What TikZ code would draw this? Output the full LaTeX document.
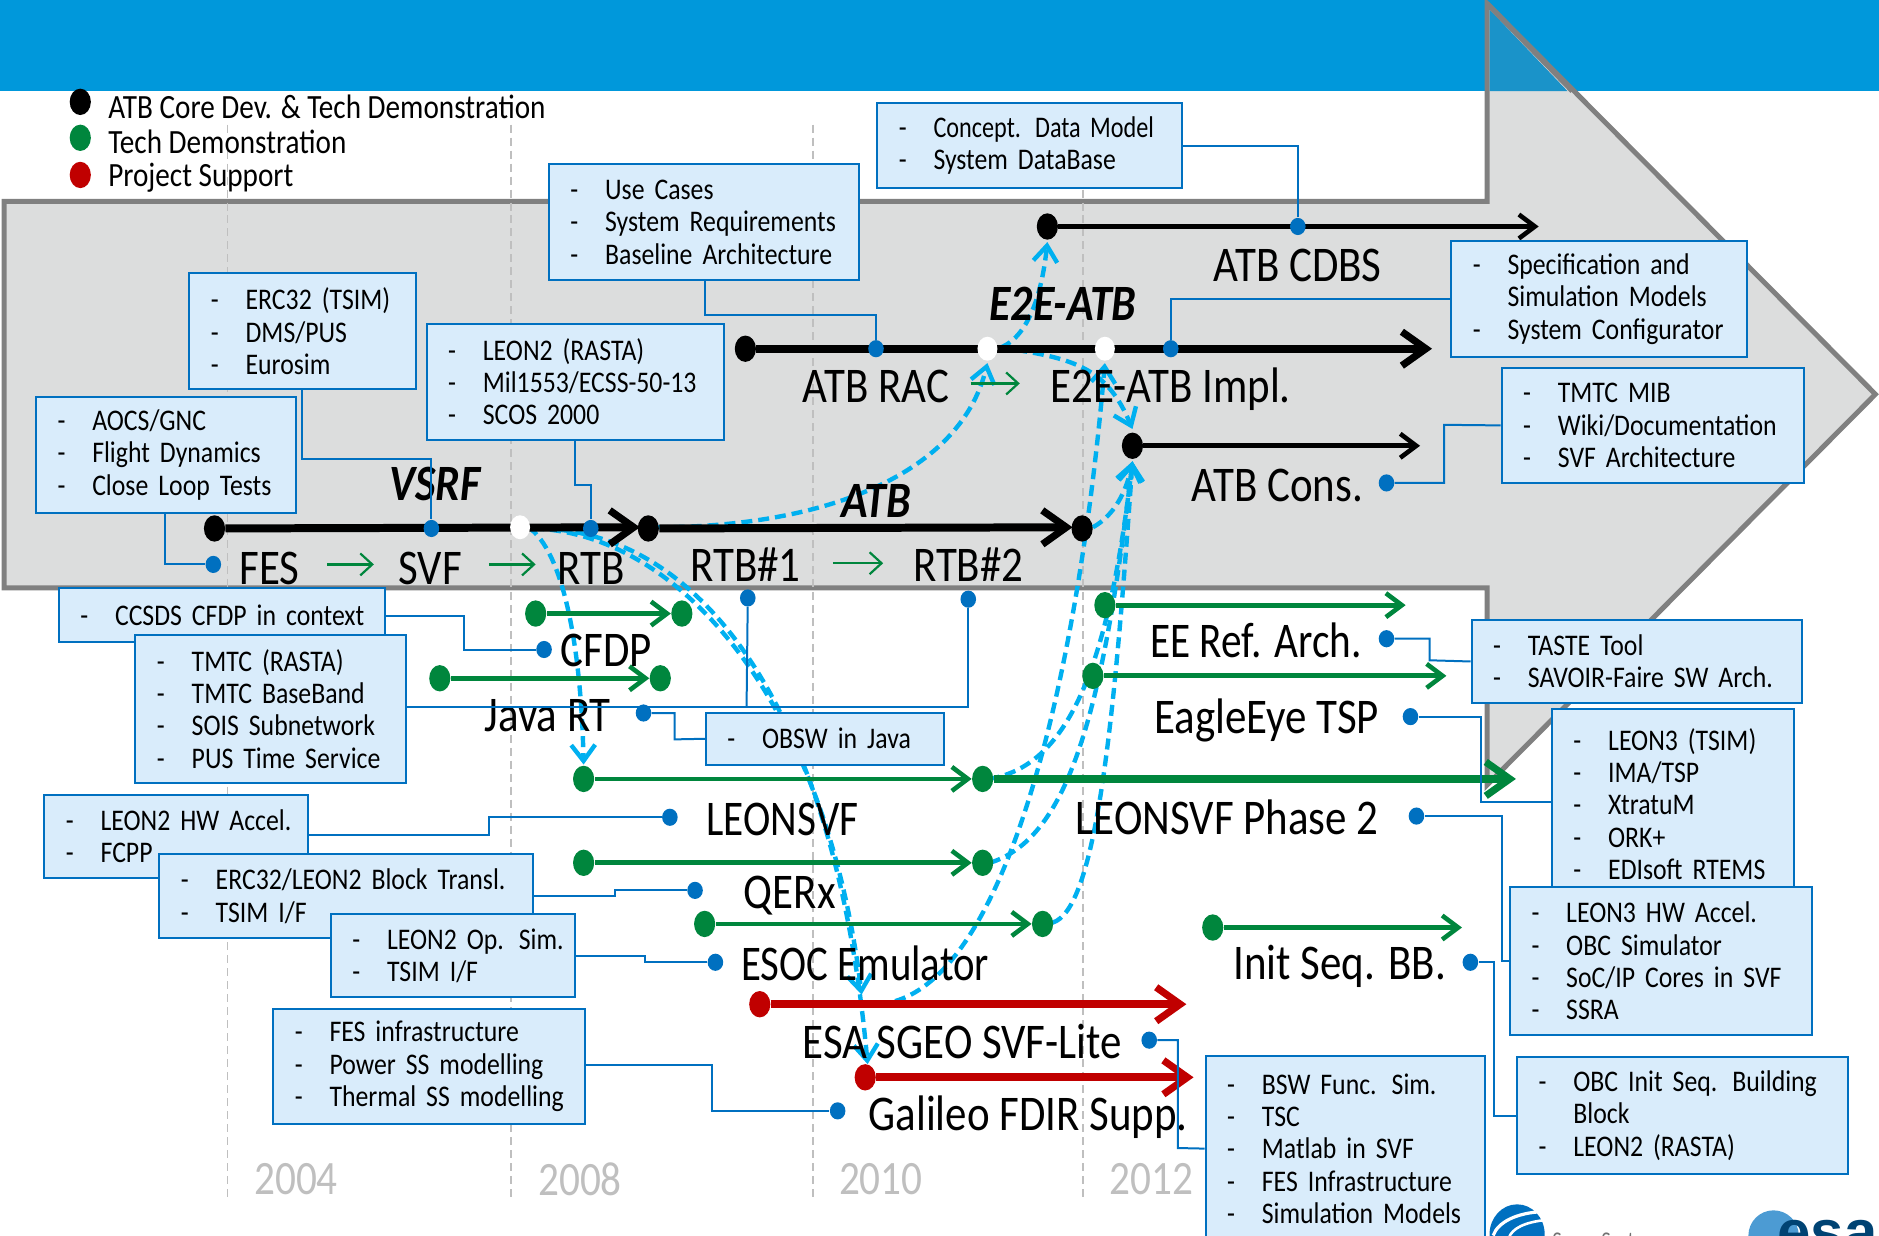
\documentclass[tikz,border=0pt]{standalone}
\usepackage{fontspec}
\usetikzlibrary{arrows.meta,shapes.geometric}
\setmainfont{Carlito}[FakeStretch=0.86]
\newfontfamily\esafont{Liberation Sans}
\definecolor{band}{HTML}{0098DB}
\definecolor{arrowfill}{HTML}{DCDDDD}
\definecolor{arrowline}{HTML}{808080}
\definecolor{boxfill}{HTML}{D9ECFB}
\definecolor{boxline}{HTML}{0070C0}
\definecolor{gr}{HTML}{00863D}
\definecolor{rd}{HTML}{C00000}
\definecolor{cy}{HTML}{00B0F0}
\definecolor{yr}{HTML}{BFBFBF}
\newcommand{\di}[1]{\mbox{\raisebox{-0.9pt}{\makebox[17.4pt][l]{-}#1}}}
\newcommand{\nd}[1]{\mbox{\raisebox{-0.9pt}{\hspace*{17.4pt}#1}}}
\newcommand{\ibox}[6]{%
 \pgfmathsetlengthmacro{\bw}{(#4-#2)*0.6pt}%
 \pgfmathsetlengthmacro{\bh}{(#5-#3)*0.6pt}%
 \pgfmathsetlengthmacro{\bt}{(#4-#2)*0.6pt-21.6pt}%
 \node[infobox,minimum width=\bw,minimum height=\bh,text width=\bt] (#1) at ({(#2+#4)/2},{(#3+#5)/2}) {#6};}
\tikzset{
 infobox/.style={draw=boxline,fill=boxfill,line width=1pt,inner xsep=10.8pt,inner ysep=0pt,align=left,
   font=\fontsize{15}{16.2}\selectfont},
 biglabel/.style={font=\fontsize{25}{27}\selectfont,inner sep=0pt,text height=16.2pt,text depth=0pt},
 italabel/.style={font=\fontsize{25.5}{27}\selectfont\bfseries\itshape,inner sep=0pt,text height=16.2pt,text depth=0pt},
 yearlabel/.style={font=\fontsize{24}{26}\selectfont,text=yr,inner sep=0pt},
 leglabel/.style={font=\fontsize{17}{18}\selectfont,anchor=west,inner sep=0pt},
 linkline/.style={draw=boxline,line width=1pt},
 pin/.style={ellipse,fill=boxline,minimum width=7.8pt,minimum height=8.6pt,inner sep=0pt},
 bigdot/.style={ellipse,fill=#1,minimum width=10.6pt,minimum height=13.2pt,inner sep=0pt},
 whitedot/.style={ellipse,fill=white,minimum width=10pt,minimum height=12pt,inner sep=0pt},
 timebar/.style={draw=#1,-{Straight Barb[length=8pt,width=12pt,line width=2.3pt]},line width=2.4pt},
 bigbar/.style={draw=#1,-{Straight Barb[length=12pt,width=17pt,line width=3.6pt]},line width=4pt},
 thinbar/.style={draw=#1,-{Straight Barb[length=8pt,width=12pt,line width=2.3pt]},line width=2.6pt},
 stepgreen/.style={draw=gr,line width=1.1pt,-{Straight Barb[length=6pt,width=11pt,line width=1.1pt]}},
 flow/.style={draw=cy,line width=2.2pt,dash pattern=on 5.5pt off 3pt},
 flowarrow/.style={flow,-{Straight Barb[length=8pt,width=12pt,line width=2.2pt]}},
 yeargrid/.style={draw=yr,line width=0.8pt,dash pattern=on 4pt off 2.5pt},
}
\begin{document}
\begin{tikzpicture}[x=0.6pt,y=-0.6pt]
\useasboundingbox (0,0) rectangle (1568,1031.4);
% band and big arrow
\fill[band] (0,0) rectangle (1568,76);
\draw[fill=arrowfill,draw=arrowline,line width=2.5pt,miter limit=10] (3.5,168) -- (1241,168) -- (1241,3) -- (1565,329) -- (1241,655) -- (1241,490.5) -- (3.5,490.5) -- cycle;
\fill[fill=band!80!arrowline] (1243,8) -- (1308,76) -- (1243,76) -- cycle;
\draw[arrowline,line width=2.5pt] (1241,3) -- (1312,76);
% year lines
\foreach \x in {190,426.5,678.5,903.5}{\draw[yeargrid] (\x,104) -- (\x,1002);}
\node[yearlabel] (y1) at (247,984) {2004};
\node[yearlabel] (y2) at (484,984) {2008};
\node[yearlabel] (y3) at (735,984) {2010};
\node[yearlabel] (y4) at (961,984) {2012};
% logos
\begin{scope}
\clip (0,0) rectangle (1568,1031.4);
\fill[boxline] (1266,1030) ellipse (23 and 25);
\draw[white,line width=1.6pt] (1246,1031) .. controls (1250,1020) and (1265,1012) .. (1288,1011);
\draw[white,line width=1.3pt] (1259,1033) .. controls (1262,1025) and (1272,1020) .. (1290,1018);
\node[font=\fontsize{12}{13}\selectfont,text=yr!60!black,anchor=west,inner sep=0pt] (ssl) at (1295,1037) {SpaceSystems};
\fill[boxline!70!white] (1480,1031) circle (21);
\node[font=\esafont\fontsize{30}{32}\selectfont\bfseries,text=boxline!60!black,anchor=base west,inner sep=0pt] (esal) at (1483,1045) {esa};
\end{scope}
% dashed flows
\coordinate (cA) at (945,385);
\draw[flowarrow] (548,440) .. controls (680,440) and (800,400) .. (824,303);
\draw[flowarrow] (835,290) .. controls (860,280) and (870,240) .. (874,202);
\draw[flowarrow] (848,292) .. controls (900,300) and (925,310) .. (945,358);
\draw[flowarrow] (733,838) .. controls (840,830) and (900,560) .. (922,303);
\draw[flowarrow] (825,650) .. controls (890,640) and (925,560) .. (cA);
\draw[flowarrow] (826,720) .. controls (890,700) and (920,600) .. (cA);
\draw[flowarrow] (878,770) .. controls (915,760) and (930,600) .. (cA);
\draw[flowarrow] (912,440) .. controls (930,430) and (940,410) .. (cA);
\draw[flowarrow] (441,440) .. controls (470,460) and (485,540) .. (487,638);
\draw[flowarrow] (445,441) .. controls (570,445) and (690,590) .. (719,830);
\draw[flowarrow] (452,441) .. controls (585,445) and (697,590) .. (724,888);
% bars
\node[bigdot=black] (fes) at (179,441) {};
\node[bigdot=black] (rtb1) at (541,441) {};
\node[bigdot=black] (rtb2) at (903,441) {};
\node[bigdot=black] (rac) at (622,291) {};
\node[bigdot=black] (cdbs) at (874,189) {};
\node[bigdot=black] (cons) at (945,372) {};
\coordinate (rtbend) at (534,440);
\coordinate (rtbtwoend) at (895,440);
\coordinate (racend) at (1195,291);
\coordinate (cdbsend) at (1284,189);
\coordinate (consend) at (1185,372);
\draw[bigbar=black] (fes) -- (rtbend);
\draw[bigbar=black] (rtb1) -- (rtbtwoend);
\draw[bigbar=black] (rac) -- (racend);
\draw[thinbar=black] (cdbs) -- (cdbsend);
\draw[thinbar=black] (cons) -- (consend);
\node[whitedot] (wa) at (434,440) {};
\node[whitedot] (wb) at (824,291) {};
\node[whitedot] (wc) at (922,291) {};
% green
\node[bigdot=gr] (g1) at (447,512) {};
\node[bigdot=gr] (g1e) at (569,512) {};
\node[bigdot=gr] (g2) at (367,566) {};
\node[bigdot=gr] (g2e) at (551,566) {};
\node[bigdot=gr] (g3) at (487,650) {};
\node[bigdot=gr] (g3e) at (820,650) {};
\node[bigdot=gr] (g4) at (487,720) {};
\node[bigdot=gr] (g4e) at (820,720) {};
\node[bigdot=gr] (g5) at (588,771) {};
\node[bigdot=gr] (g5e) at (870,771) {};
\node[bigdot=gr] (g6) at (922,505) {};
\node[bigdot=gr] (g7) at (912,564) {};
\node[bigdot=gr] (g8) at (1012,774) {};
\coordinate (g3end) at (1265,650);
\coordinate (g6end) at (1173,505);
\coordinate (g7end) at (1207,564);
\coordinate (g8end) at (1220,774);
\draw[timebar=gr] (g1) -- (g1e);
\draw[timebar=gr] (g2) -- (g2e);
\draw[timebar=gr] (g3) -- (g3e);
\draw[timebar=gr] (g4) -- (g4e);
\draw[timebar=gr] (g5) -- (g5e);
\draw[bigbar=gr] (g3e) -- (g3end);
\draw[timebar=gr] (g6) -- (g6end);
\draw[timebar=gr] (g7) -- (g7end);
\draw[timebar=gr] (g8) -- (g8end);
% red
\node[bigdot=rd] (r1) at (634,838) {};
\node[bigdot=rd] (r2) at (722,899) {};
\coordinate (r1end) at (990,838);
\coordinate (r2end) at (996,899);
\draw[bigbar=rd] (r1) -- (r1end);
\draw[bigbar=rd] (r2) -- (r2end);
% step arrows
\foreach \a/\b/\y in {273/312/471,408/447/471,695/737/470,810/851/320}{\draw[stepgreen] (\a,\y) -- (\b,\y);}
% labels
\node[biglabel] (lfes) at (225,474) {FES};
\node[biglabel] (lsvf) at (359,474) {SVF};
\node[biglabel] (lrtb) at (493,474) {RTB};
\node[biglabel] (lrtba) at (622,472) {RTB\#1};
\node[biglabel] (lrtbb) at (808,472) {RTB\#2};
\node[biglabel] (lrac) at (731,322) {ATB RAC};
\node[biglabel] (limpl) at (977,322) {E2E-ATB Impl.};
\node[biglabel] (lcdbs) at (1083,221) {ATB CDBS};
\node[biglabel] (lcons) at (1066,405) {ATB Cons.};
\node[biglabel] (lcfdp) at (506,543) {CFDP};
\node[biglabel] (ljava) at (457,597) {Java RT};
\node[biglabel] (lleon) at (653,684) {\scalebox{.96}[1]{LEONSVF}};
\node[biglabel] (lleonb) at (1024,683) {LEONSVF Phase 2};
\node[biglabel] (lqerx) at (659,745) {QERx};
\node[biglabel] (lesoc) at (722,805) {\scalebox{.95}[1]{ESOC Emulator}};
\node[biglabel] (lsgeo) at (803,870) {ESA SGEO SVF-Lite};
\node[biglabel] (lgal) at (858,930) {Galileo FDIR Supp.};
\node[biglabel] (lee) at (1048,535) {\scalebox{.96}[1]{EE Ref. Arch.}};
\node[biglabel] (leag) at (1057,599) {EagleEye TSP};
\node[biglabel] (linit) at (1118,804) {Init Seq. BB.};
\node[italabel] (lvsrf) at (363,404) {VSRF};
\node[italabel] (latb) at (731,418) {ATB};
\node[italabel] (le2e) at (887,254) {E2E-ATB};
% legend
\node[bigdot=black] (k1) at (67,85) {};
\node[bigdot=gr] (k2) at (67,115) {};
\node[bigdot=rd] (k3) at (67,146) {};
\node[leglabel] (t1) at (90,89) {ATB Core Dev. \& Tech Demonstration};
\node[leglabel] (t2) at (90,118) {Tech Demonstration};
\node[leglabel] (t3) at (90,148) {Project Support};
% pins
\node[pin] (p1) at (1083,189) {};
\node[pin] (p2) at (731,291) {};
\node[pin] (p3) at (360,441) {};
\node[pin] (p4) at (178,471) {};
\node[pin] (p5) at (493,441) {};
\node[pin] (p6) at (977,291) {};
\node[pin] (p7) at (1157,403) {};
\node[pin] (p8) at (454,542) {};
\node[pin] (p9) at (624,499) {};
\node[pin] (p10) at (808,500) {};
\node[pin] (p11) at (537,595) {};
\node[pin] (p12) at (559,682) {};
\node[pin] (p13) at (580,743) {};
\node[pin] (p14) at (597,803) {};
\node[pin] (p15) at (699,927) {};
\node[pin] (p16) at (1157,533) {};
\node[pin] (p17) at (1177,598) {};
\node[pin] (p18) at (1182,681) {};
\node[pin] (p19) at (1227,803) {};
\node[pin] (p20) at (959,868) {};
% boxes
\ibox{bcon}{732}{86}{986}{157}{\di{\scalebox{.94}[1]{Concept. Data Model}}\\\di{System DataBase}}
\ibox{buse}{458}{137}{717}{234}{\di{Use Cases}\\\di{System Requirements}\\\di{Baseline Architecture}}
\ibox{berc}{158}{228}{347}{325}{\di{ERC32 (TSIM)}\\\di{DMS/PUS}\\\di{Eurosim}}
\ibox{baoc}{30}{331}{247}{428}{\di{AOCS/GNC}\\\di{Flight Dynamics}\\\di{Close Loop Tests}}
\ibox{bras}{356}{270}{604}{367}{\di{LEON2 (RASTA)}\\\di{Mil1553/ECSS-50-13}\\\di{SCOS 2000}}
\ibox{bspe}{1211}{201}{1458}{298}{\di{Specification and}\\\nd{Simulation Models}\\\di{System Configurator}}
\ibox{bmib}{1253}{307}{1505}{403}{\di{TMTC MIB}\\\di{Wiki/Documentation}\\\di{SVF Architecture}}
\ibox{bccs}{49}{491}{321}{536}{\di{CCSDS CFDP in context}}
\ibox{btmt}{113}{530}{339}{653}{\di{TMTC (RASTA)}\\\di{TMTC BaseBand}\\\di{SOIS Subnetwork}\\\di{PUS Time Service}}
\ibox{bhw}{37}{663}{257}{733}{\di{LEON2 HW Accel.}\\\di{FCPP}}
\ibox{bblk}{133}{713}{445}{783}{\di{ERC32/LEON2 Block Transl.}\\\di{TSIM I/F}}
\ibox{bop}{276}{763}{480}{832}{\di{LEON2 Op. Sim.}\\\di{TSIM I/F}}
\ibox{bobs}{589}{595}{788}{638}{\di{OBSW in Java}}
\ibox{bfes}{228}{842}{488}{938}{\di{FES infrastructure}\\\di{Power SS modelling}\\\di{Thermal SS modelling}}
\ibox{btas}{1228}{517}{1504}{587}{\di{TASTE Tool}\\\di{SAVOIR-Faire SW Arch.}}
\ibox{bl3}{1295}{592}{1497}{750}{\di{LEON3 (TSIM)}\\\di{IMA/TSP}\\\di{XtratuM}\\\di{ORK+}\\\di{EDIsoft RTEMS}}
\ibox{bl3h}{1260}{740}{1512}{864}{\di{LEON3 HW Accel.}\\\di{OBC Simulator}\\\di{SoC/IP Cores in SVF}\\\di{SSRA}}
\ibox{bbsw}{1006}{881}{1239}{1036}{\di{BSW Func. Sim.}\\\di{TSC}\\\di{Matlab in SVF}\\\di{FES Infrastructure}\\\di{Simulation Models}}
\ibox{bobc}{1266}{882}{1542}{980}{\di{OBC Init Seq. Building}\\\nd{Block}\\\di{LEON2 (RASTA)}}
% connectors
\coordinate (j1) at (623,590);
\draw[linkline] (bcon.east) -| (p1);
\draw[linkline] (588,234) |- (731,263) -- (p2);
\draw[linkline] (252,325) |- (360,383) -- (p3);
\draw[linkline] (138,428) |- (p4);
\draw[linkline] (480,367) |- (493,405) -- (p5);
\draw[linkline] (bspe.west) -| (p6);
\draw[linkline] (bmib.west) -- (1205,354.5) |- (p7);
\draw[linkline] (321,514) -| (387,542) -- (p8);
\draw[linkline] (339,590) -| (p10);
\draw[linkline] (j1) -- (p9);
\draw[linkline] (p11) -| (563,617) -- (bobs.west);
\draw[linkline] (257,697) -| (408,682) -- (p12);
\draw[linkline] (445,748) -| (513,743) -- (p13);
\draw[linkline] (480,798) -| (538,803) -- (p14);
\draw[linkline] (488,889) -| (594,927) -- (p15);
\draw[linkline] (p16) -| (1193,551) -- (btas.west);
\draw[linkline] (p17) -| (1236,669) -- (1295,669);
\draw[linkline] (p18) -| (1253,802) -- (bl3h.west);
\draw[linkline] (p19) -| (1247,931) -- (bobc.west);
\draw[linkline] (p20) -| (983,958) -- (bbsw.west);
\end{tikzpicture}
\end{document}
